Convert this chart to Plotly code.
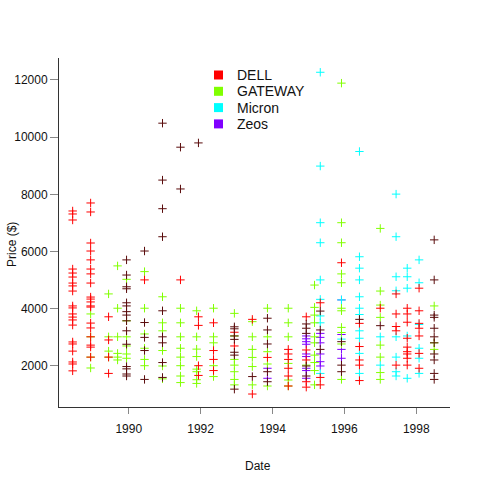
import plotly.graph_objects as go

# ---------------- data ----------------
dell_dates = (
    [1988.44] * 21 + [1988.94] * 19 + [1989.44] * 4 + [1990.44] + [1991.44] + [1991.94] * 4
    + [1992.36] * 4 + [1992.94] * 2 + [1993.44] * 2 + [1993.86] + [1994.44] * 6 + [1994.94] * 5
    + [1995.33] * 3 + [1995.92] + [1996.42] * 5 + [1997.0] + [1997.44] * 5 + [1997.75] * 9
    + [1998.08] * 7
)
dell_prices = [
    7420, 7315, 7105, 5390, 5250, 5110, 4900, 4800, 4620, 4100, 4030, 3820, 3710, 3610, 3430, 2840, 2770, 2520, 2140, 2070, 1830,
    7700, 7385, 6300, 6020, 5710, 5390, 5220, 4900, 4410, 4340, 4240, 4100, 4060, 3500, 3330, 3020, 2730, 2660, 2310,
    3720, 2910, 2310, 1740,
    5010,
    5010,
    3720, 3420, 2010, 1670,
    3510, 2540, 2230, 1840,
    3180, 2700,
    3630, 1020,
    2300,
    2580, 2420, 2230, 1920, 1650, 1300,
    3720, 2560, 2210, 1450, 1260,
    4210, 1600, 1340,
    5610,
    3490, 2680, 2210, 2030, 1490,
    4020,
    4520, 3820, 3380, 3230, 2030,
    4020, 3820, 3530, 2970, 2660, 2500, 2420, 2270, 2030,
    4720, 3930, 3490, 3320, 3050, 2440, 1920,
]

# DELL points that are printed darker in the reference
dell_dark_dates = (
    [1989.94] * 15 + [1990.44] * 5 + [1990.94] * 9 + [1991.44] * 2 + [1991.94]
    + [1992.94] * 7 + [1993.44] + [1993.86] * 5 + [1994.94] * 5 + [1995.33] * 3
    + [1995.92] * 3 + [1996.42] + [1997.0] + [1998.5] * 11
)
dell_dark_prices = [
    5710, 5180, 4770, 4700, 4210, 4100, 3900, 3780, 3580, 3230, 2760, 1980, 1900, 1720, 1650,
    6020, 3520, 3000, 2540, 1530,
    10490, 8500, 7500, 6520, 3930, 3020, 2810, 2120, 1600,
    9650, 8190,
    9800,
    3370, 3300, 3050, 2930, 2480, 2380, 1190,
    1630,
    3670, 3260, 2770, 1800, 1450,
    3470, 3320, 3140, 2000, 1650,
    3920, 3260, 2580,
    2850, 2030, 1800,
    3630,
    3410,
    6410, 5010, 3780, 3700, 3320, 3020, 2810, 2420, 2210, 1740, 1530,
]

gateway_dates = (
    [1988.94] * 4 + [1989.44] * 4 + [1989.69] * 6 + [1989.94] * 6 + [1990.44] * 6 + [1990.94] * 6
    + [1991.44] * 8 + [1991.89] * 8 + [1992.36] * 5 + [1992.94] * 7 + [1993.44] * 6 + [1993.86] * 5
    + [1994.44] * 6 + [1994.94] + [1995.17] * 10 + [1995.92] * 11 + [1997.0] * 8 + [1998.5] * 3
)
gateway_prices = [
    3820, 3020, 2310, 1930,
    4520, 3020, 2520, 2310,
    5500, 4020, 3020, 2440, 2310, 2210,
    5030, 3580, 3020, 2700, 2420, 2270,
    5300, 4020, 3120, 2620, 2230, 2010,
    4420, 3510, 3230, 2540, 2000, 1550,
    4020, 3510, 3020, 2620, 2310, 2010, 1650, 1420,
    3930, 3020, 2590, 2330, 1890, 1800, 1520, 1390,
    4020, 3020, 2810, 2010, 1630,
    3840, 3050, 2230, 2030, 1800, 1530, 1340,
    3550, 3020, 2580, 2300, 1980, 1340,
    4020, 3020, 2500, 2070, 1300,
    4020, 3510, 3020, 2090, 1510, 1300,
    2030,
    4830, 4050, 3780, 3510, 3020, 2810, 2380, 2120, 1840, 1340,
    11890, 7010, 6310, 5220, 4910, 4020, 3930, 3350, 3170, 2770, 1530,
    6810, 4620, 4130, 3700, 2730, 2310, 1770, 1530,
    4100, 2810, 2580,
]

micron_dates = (
    [1995.33] * 9 + [1995.92] * 2 + [1996.42] * 11 + [1997.0] * 2 + [1997.44] * 8
    + [1997.75] * 5 + [1998.08] * 6
)
micron_prices = [
    12270, 8990, 7010, 6310, 5010, 4330, 3750, 3510, 1740,
    4310, 2940,
    9500, 5820, 5420, 5010, 4420, 4020, 3800, 3230, 2970, 2440, 1740,
    3020, 2030,
    8010, 6520, 5120, 4630, 3020, 2310, 1800, 1650,
    5420, 5120, 4720, 3050, 1570,
    5710, 4910, 3450, 2620, 2270, 1740,
]

zeos_dates = [1993.86] * 2 + [1994.94] * 9 + [1995.33] * 6 + [1995.92] * 4
zeos_prices = [
    1920, 1570,
    3050, 2950, 2850, 2760, 2420, 2330, 1920, 1840, 1570,
    3140, 3000, 2810, 2420, 2150, 2000,
    4310, 3100, 2580, 2270,
]

series_names = ["DELL", "GATEWAY", "Micron", "Zeos"]
series_colors = ["#FF0000", "#80FF00", "#00FFFF", "#8000FF"]
dark_dell_color = "#5a0c0c"

x_ticks = [1990, 1992, 1994, 1996, 1998]
y_ticks = [2000, 4000, 6000, 8000, 10000, 12000]

# ---------------- figure ----------------
FONT = "Liberation Sans, Arial, Helvetica, sans-serif"
fig = go.Figure()


def add_series(xs, ys, color, name):
    fig.add_trace(go.Scatter(
        x=xs, y=ys, mode="markers", name=name, showlegend=False,
        marker=dict(symbol="cross-thin-open", size=6, color=color,
                    line=dict(width=1, color=color)),
    ))


add_series(zeos_dates, zeos_prices, series_colors[3], "Zeos")
add_series(micron_dates, micron_prices, series_colors[2], "Micron")
add_series(gateway_dates, gateway_prices, series_colors[1], "GATEWAY")
add_series(dell_dates, dell_prices, series_colors[0], "DELL")
add_series(dell_dark_dates, dell_dark_prices, dark_dell_color, "DELL")

# manual legend (R style: filled squares + text)
L, R, T, B = 59, 30, 58, 73
W, H = 480, 480
pw, ph = W - L - R, H - T - B


def px2paper_x(px):
    return (px - L) / pw


def px2paper_y(py):
    return (H - B - py) / ph


shapes = []
annotations = []
for i, (nm, col) in enumerate(zip(series_names, series_colors)):
    cy = 75 + i * 16.3
    shapes.append(dict(
        type="rect", xref="paper", yref="paper",
        xsizemode="pixel", ysizemode="pixel",
        xanchor=px2paper_x(218.5), yanchor=px2paper_y(cy),
        x0=-4.5, x1=4.5, y0=-4.5, y1=4.5,
        fillcolor=col, line=dict(width=0),
    ))
    annotations.append(dict(
        text=nm, xref="paper", yref="paper",
        x=px2paper_x(235), y=px2paper_y(cy),
        xanchor="left", yanchor="middle", showarrow=False,
        font=dict(family=FONT, size=14, color="#111111"),
    ))

annotations.append(dict(
    text="Price ($)", xref="paper", yref="paper",
    x=px2paper_x(12), y=px2paper_y(245), textangle=-90,
    xanchor="center", yanchor="middle", showarrow=False,
    font=dict(family=FONT, size=12, color="#111111"),
))
annotations.append(dict(
    text="Date", xref="paper", yref="paper",
    x=px2paper_x(258), y=px2paper_y(466),
    xanchor="center", yanchor="middle", showarrow=False,
    font=dict(family=FONT, size=12, color="#111111"),
))

fig.update_layout(
    width=W, height=H,
    margin=dict(l=L, r=R, t=T, b=B, pad=0),
    paper_bgcolor="white", plot_bgcolor="white",
    showlegend=False,
    shapes=shapes, annotations=annotations,
    font=dict(family=FONT, size=12, color="#111111"),
    xaxis=dict(
        range=[1988.06, 1998.94], tickvals=x_ticks, ticktext=[str(v) for v in x_ticks],
        showgrid=False, zeroline=False, showline=True, linecolor="#333333", linewidth=1,
        ticks="outside", ticklen=6, tickcolor="#888888", tickwidth=1,
        tickfont=dict(family=FONT, size=12, color="#111111"),
        ticklabelstandoff=5,
        automargin=False,
    ),
    yaxis=dict(
        range=[566, 12769], tickvals=y_ticks, ticktext=[str(v) for v in y_ticks],
        showgrid=False, zeroline=False, showline=True, linecolor="#333333", linewidth=1,
        ticks="outside", ticklen=8, tickcolor="#888888", tickwidth=1,
        tickfont=dict(family=FONT, size=12, color="#111111"),
        automargin=False,
    ),
)

fig.write_html("out.html", config={"displayModeBar": False},
               post_script="document.body.style.margin='0';")
